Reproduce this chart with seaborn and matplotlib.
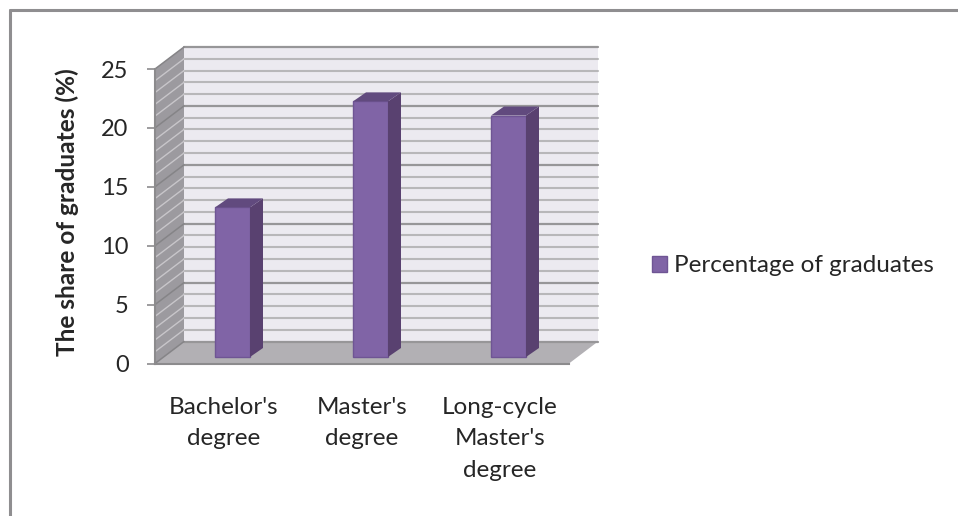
import matplotlib
matplotlib.use('Agg')
import matplotlib.pyplot as plt
import seaborn as sns
from matplotlib.patches import Patch, Polygon
from matplotlib.lines import Line2D
from matplotlib.transforms import Affine2D

# Values
categories = ["Bachelor's\ndegree", "Master's\ndegree", "Long-cycle\nMaster's\ndegree"]
shares = [12.7, 21.7, 20.5]
series_name = 'Percentage of graduates'
y_label = 'The share of graduates (%)'
major_ticks = [0, 5, 10, 15, 20, 25]
minor_ticks = [v for v in range(26) if v % 5 != 0]

W, H = 958, 516
FRONT = '#8064A6'
EDGE = '#6F5594'
SIDE = '#594170'
TOP = '#614A7E'
TEXT = '#262626'


def main():
    sns.set_theme(style='white')
    plt.rcParams['font.family'] = ['Lato', 'DejaVu Sans']

    fig = plt.figure(figsize=(W / 100, H / 100), dpi=100)
    ax = fig.add_axes([155 / W, (H - 363.5) / H, 414 / W, 294.5 / H])

    # Bars on the middle plane of the floor, pushed there in pixels afterwards
    sns.barplot(x=categories, y=shares, color=FRONT, saturation=1, width=35 / 138,
                edgecolor=EDGE, linewidth=1, ax=ax, zorder=5)
    ax.set_xlim(-0.5, 2.5)
    ax.set_ylim(0, 25)

    base = ax.transData
    mid = Affine2D().translate(8.5, 6.5)

    def to_px(x, y):
        return tuple(base.transform((x, y)))

    x0, x1 = ax.get_xlim()

    # walls and floor, in display pixels relative to the front axes corners
    def poly(points, color, z):
        ax.add_patch(Polygon(points, closed=True, facecolor=color, edgecolor='none',
                             transform=None, clip_on=False, zorder=z))

    def line(xs, ys, color, lw, z=2):
        ax.add_line(Line2D(xs, ys, color=color, lw=lw, transform=None, clip_on=False, zorder=z))

    left, bottom = to_px(x0, 0)
    right, top = to_px(x1, 25)
    dx, dy = 29, 22
    poly([(left + dx, bottom + dy), (right + dx, bottom + dy), (right + dx, top + dy), (left + dx, top + dy)], '#ECEAF0', 1)
    poly([(left, bottom), (left + dx, bottom + dy), (left + dx, top + dy), (left, top)], '#9C9A9F', 1)
    poly([(left, bottom), (right, bottom), (right + dx, bottom + dy), (left + dx, bottom + dy)], '#B2B0B4', 1.5)

    for v in minor_ticks:
        y = to_px(x0, v)[1]
        line([left + dx, right + dx], [y + dy, y + dy], '#B8B7B9', 1.5)
        line([left, left + dx], [y, y + dy], '#C8C6CA', 1.0)
    for v in major_ticks:
        y = to_px(x0, v)[1]
        line([left + dx, right + dx], [y + dy, y + dy], '#979698', 1.6, 3)
        line([left, left + dx], [y, y + dy], '#858487', 1.1, 3)

    # 3D faces of the bars
    for bar in ax.patches:
        if bar.get_zorder() != 5:
            continue
        bar.set_transform(base + mid)
        xa, ya = to_px(bar.get_x(), 0)
        xb, yb = to_px(bar.get_x() + bar.get_width(), bar.get_height())
        xa, xb = xa + 8.5, xb + 8.5
        ya, yb = ya + 6.5, yb + 6.5
        sx, sy = 13, 9
        poly([(xb, ya), (xb + sx, ya + sy), (xb + sx, yb + sy), (xb, yb)], SIDE, 6)
        poly([(xa, yb), (xb, yb), (xb + sx, yb + sy), (xa + sx, yb + sy)], TOP, 6)

    # axes lines and ticks
    for name in ['top', 'right']:
        ax.spines[name].set_visible(False)
    for name in ['left', 'bottom']:
        ax.spines[name].set_color('#8C8B8D')
        ax.spines[name].set_linewidth(1.5)
        ax.spines[name].set_zorder(4)
    ax.set_yticks(major_ticks)
    ax.tick_params(axis='y', length=5.5, width=1.2, color='#8C8B8D', labelsize=17,
                   labelcolor=TEXT, pad=13.5, left=True)
    ax.tick_params(axis='x', length=0, labelsize=17.5, labelcolor=TEXT, pad=24)
    for label in ax.get_xticklabels():
        label.set_linespacing(1.62)

    ax.set_ylabel(y_label, fontsize=17.6, fontweight='bold', color=TEXT)
    ax.yaxis.set_label_coords(79 / W, 1 - 212.5 / H, transform=fig.transFigure)

    ax.legend(handles=[Patch(facecolor=FRONT, edgecolor=EDGE, linewidth=1, label=series_name)],
              loc='center left', bbox_to_anchor=(652 / W, 1 - 266 / H), bbox_transform=fig.transFigure,
              frameon=False, fontsize=17.5, borderpad=0, borderaxespad=0,
              handlelength=0.62, handleheight=0.62, handletextpad=0.3, labelcolor=TEXT)

    # picture frame, top and left only
    fig.add_artist(Line2D([9.5 / W, 1], [1 - 10 / H, 1 - 10 / H], color='#8F8E90', lw=2.2, transform=fig.transFigure))
    fig.add_artist(Line2D([9.5 / W, 9.5 / W], [1 - 10 / H, 0], color='#8F8E90', lw=2.2, transform=fig.transFigure))

    fig.savefig('out.png', dpi=100)
    plt.close(fig)


if __name__ == "__main__":
    main()
